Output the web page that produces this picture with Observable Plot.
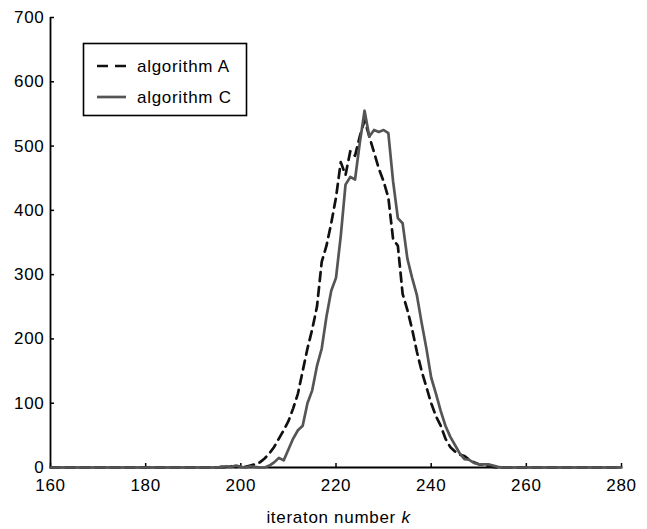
<!DOCTYPE html>
<html>
<head>
<meta charset="utf-8">
<script src="https://cdn.jsdelivr.net/npm/d3@7"></script>
<script src="https://cdn.jsdelivr.net/npm/@observablehq/plot@0.6"></script>
<style>
  html, body { margin: 0; padding: 0; background: #fff; }
  #chart { position: relative; width: 647px; height: 529px; }
</style>
</head>
<body>
<div id="chart"></div>
<script>
// ---- data ----
const kValues = [
  160,161,162,163,164,165,166,167,168,169,170,171,172,173,174,175,176,177,178,179,
  180,181,182,183,184,185,186,187,188,189,190,191,192,193,194,195,196,197,198,199,
  200,201,202,203,204,205,206,207,208,209,210,211,212,213,214,215,216,217,218,219,
  220,221,222,223,224,225,226,227,228,229,230,231,232,233,234,235,236,237,238,239,
  240,241,242,243,244,245,246,247,248,249,250,251,252,253,254,255,256,257,258,259,
  260,261,262,263,264,265,266,267,268,269,270,271,272,273,274,275,276,277,278,279,
  280
];
const algorithmA = [
  0,0,0,0,0,0,0,0,0,0,0,0,0,0,0,0,0,0,0,0,
  0,0,0,0,0,0,0,0,0,0,0,0,0,0,0,0,1,0,2,1,
  2,1,3,5,8,14,22,32,45,58,72,92,115,150,185,215,250,320,345,380,
  420,475,455,492,485,515,540,515,490,465,445,420,355,345,270,245,215,180,150,125,
  100,80,65,45,32,25,20,18,12,8,5,4,2,1,0,0,0,0,0,0,
  0,0,0,0,0,0,0,0,0,0,0,0,0,0,0,0,0,0,0,0,
  0
];
const algorithmC = [
  0,0,0,0,0,0,0,0,0,0,0,0,0,0,0,0,0,0,0,0,
  0,0,0,0,0,0,0,0,0,0,0,0,0,0,0,0,1,2,1,3,
  1,0,2,1,0,0,3,8,15,11,28,45,58,65,100,120,158,185,235,275,
  295,360,440,452,448,505,555,515,525,522,525,520,445,388,380,325,295,268,225,185,
  140,115,88,65,48,35,22,13,12,7,5,5,5,3,1,0,0,0,0,0,
  0,0,0,0,0,0,0,0,0,0,0,0,0,0,0,0,0,0,0,0,
  0
];
const seriesNames = ["algorithm A", "algorithm C"];
const xTicks = [160, 180, 200, 220, 240, 260, 280];
const yTicks = [0, 100, 200, 300, 400, 500, 600, 700];
const xLabel = "iteraton number ";
const xLabelVar = "k";

// ---- layout ----
const W = 647, H = 529;
const mL = 50, mR = 26, mT = 17, mB = 62;
const plotW = W - mL - mR, plotH = H - mT - mB;
const tickLen = 4;
const font = "'Liberation Sans', Arial, Helvetica, sans-serif";
const fs = 17;
const ls = "0.7px";

const dataA = kValues.map((k, i) => ({k, v: algorithmA[i]}));
const dataC = kValues.map((k, i) => ({k, v: algorithmC[i]}));

const chart = Plot.plot({
  width: W, height: H,
  marginLeft: mL, marginRight: mR, marginTop: mT, marginBottom: mB,
  style: {fontFamily: font, fontSize: fs + "px", color: "#000", background: "#fff", letterSpacing: ls},
  x: {domain: [160, 280], label: null},
  y: {domain: [0, 700], label: null},
  marks: [
    Plot.axisX(xTicks, {tickSize: 0, tickPadding: 11, fontSize: fs, label: null}),
    Plot.axisY(yTicks, {tickSize: 0, tickPadding: 6, fontSize: fs, label: null}),
    // inward tick marks
    Plot.ruleX(xTicks, {x: d => d, insetTop: plotH - tickLen, stroke: "#000", strokeWidth: 1.5}),
    Plot.ruleY(yTicks, {y: d => d, insetRight: plotW - tickLen, stroke: "#000", strokeWidth: 1.5}),
    // axis lines
    Plot.ruleX([160], {stroke: "#000", strokeWidth: 1.8}),
    Plot.ruleY([0], {stroke: "#000", strokeWidth: 2}),
    // series
    Plot.line(dataA, {x: "k", y: "v", stroke: "#111", strokeWidth: 2.7, strokeDasharray: "9,6"}),
    Plot.line(dataC, {x: "k", y: "v", stroke: "#555", strokeWidth: 2.7})
  ]
});

document.getElementById("chart").appendChild(chart);

// x-axis title with italic variable
const svg = d3.select(chart);
const t = svg.append("text")
  .attr("x", mL + plotW / 2 + 3)
  .attr("y", 523)
  .attr("text-anchor", "middle")
  .attr("font-family", font)
  .attr("font-size", fs)
  .attr("fill", "#000")
  .style("letter-spacing", ls);
t.append("tspan").text(xLabel);
t.append("tspan").attr("font-style", "italic").text(xLabelVar);

// legend box
const lg = svg.append("g");
lg.append("rect")
  .attr("x", 83.5).attr("y", 43.5).attr("width", 163).attr("height", 72)
  .attr("fill", "#fff").attr("stroke", "#000").attr("stroke-width", 1.6);
const legendStyles = [
  {stroke: "#111", dash: "11,7"},
  {stroke: "#555", dash: null}
];
seriesNames.forEach((name, i) => {
  const cy = 66 + i * 31;
  const ln = lg.append("line")
    .attr("x1", 97).attr("x2", 126).attr("y1", cy).attr("y2", cy)
    .attr("stroke", legendStyles[i].stroke).attr("stroke-width", 2.7);
  if (legendStyles[i].dash) ln.attr("stroke-dasharray", legendStyles[i].dash);
  lg.append("text")
    .attr("x", 137).attr("y", cy).attr("dy", "0.35em")
    .attr("text-anchor", "start")
    .attr("font-family", font).attr("font-size", fs).attr("fill", "#000")
    .style("letter-spacing", ls)
    .text(name);
});
</script>
</body>
</html>
